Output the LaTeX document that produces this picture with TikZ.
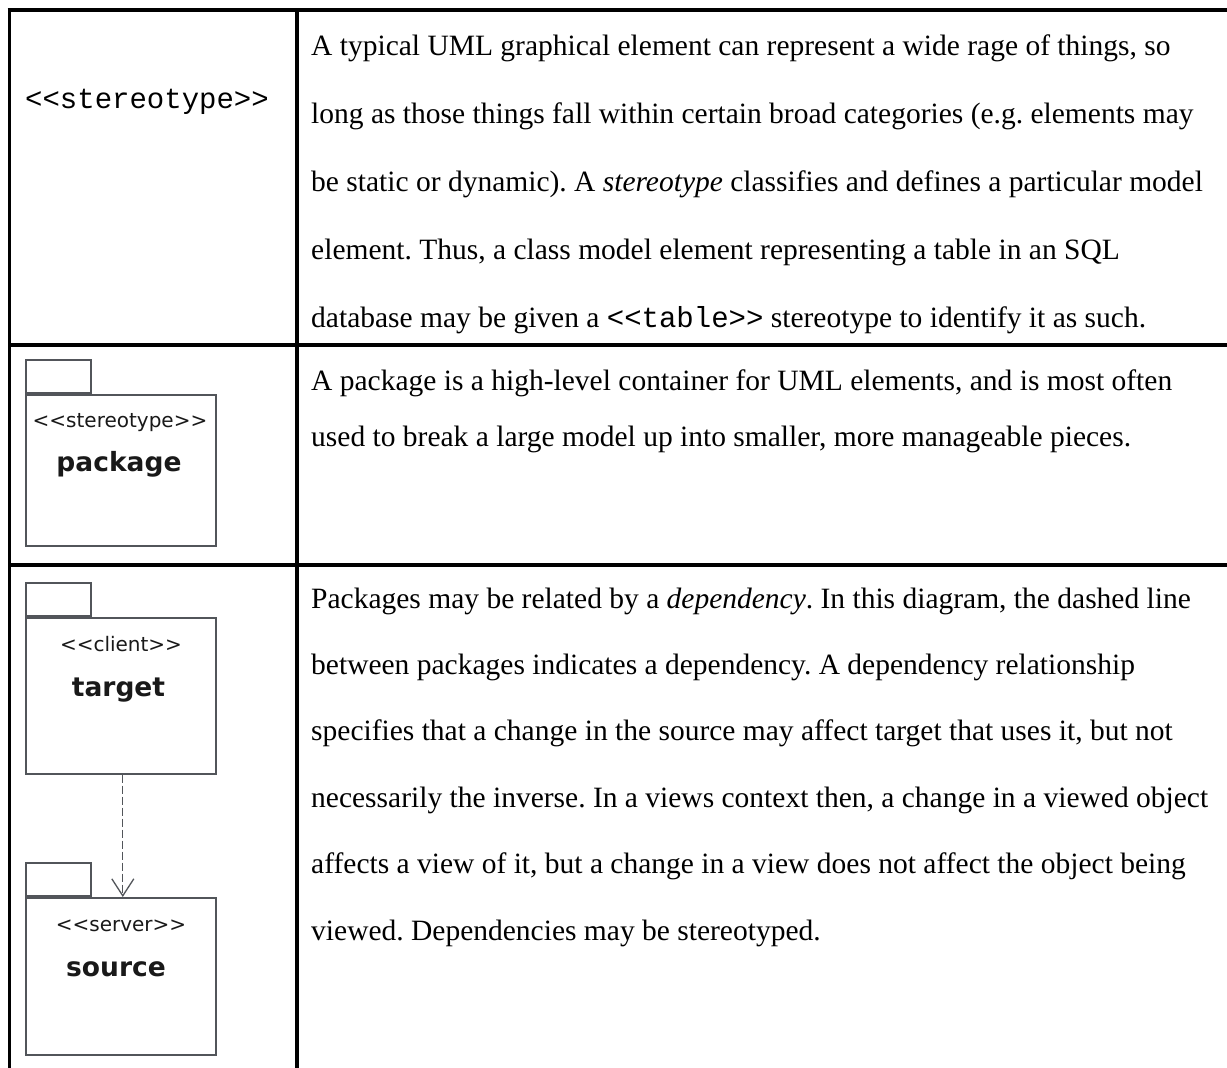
\documentclass[tikz,border=0pt]{standalone}
\usepackage{fontspec}
\setmainfont{Liberation Serif}
\setmonofont{Liberation Mono}
\newfontfamily\pkgfont{DejaVu Sans}
\usetikzlibrary{arrows.meta}
\frenchspacing

\definecolor{pkgline}{RGB}{82,85,90}
\definecolor{pkgtext}{RGB}{25,25,25}

\begin{document}
\begin{tikzpicture}[x=1pt,y=-1pt,
  rule/.style={line width=3.6pt, draw=black},
  body/.style={font=\fontsize{29.5}{35}\selectfont, anchor=base west, inner sep=0pt},
  mono/.style={font=\fontsize{29}{35}\ttfamily, anchor=base, inner sep=0pt},
  pkgbody/.style={draw=pkgline, line width=1.6pt, fill=white, minimum width=190pt,
    minimum height=151pt, inner sep=0pt, anchor=north west},
  pkgtab/.style={draw=pkgline, line width=1.6pt, minimum width=65pt,
    minimum height=33pt, inner sep=0pt, anchor=south west},
  stereo/.style={font=\pkgfont\fontsize{20}{24}\selectfont, text=pkgtext, anchor=base, inner sep=0pt},
  pkgname/.style={font=\pkgfont\bfseries\fontsize{26.5}{30}\selectfont, text=pkgtext, anchor=base, inner sep=0pt},
  dep/.style={draw=pkgline, line width=1.3pt, dash pattern=on 8pt off 3pt,
    -{Straight Barb[length=17pt, width=22pt, line width=1.3pt]}}
]
\useasboundingbox[fill=white] (0,0) rectangle (1227,1068);

% table rules
\draw[rule] (7.7,10) -- (1227,10);
\draw[rule] (9.5,8.2) -- (9.5,1068);
\draw[rule] (297,8.2) -- (297,1068);
\draw[rule] (9.5,345) -- (1227,345);
\draw[rule] (9.5,565) -- (1227,565);

% row 1: stereotype
\node[mono] (st) at (147,108) {<{}<stereotype>{}>};
\node[body] (a1) at (311,55) {A typical UML graphical element can represent a wide rage of things, so};
\node[body] (a2) at (311,123) {long as those things fall within certain broad categories (e.g. elements may};
\node[body] (a3) at (311,191) {be static or dynamic). A \textit{stereotype} classifies and defines a particular model};
\node[body] (a4) at (311,259) {element. Thus, a class model element representing a table in an SQL};
\node[body] (a5) at (311,327) {database may be given a {\ttfamily\fontsize{29}{35}\selectfont <{}<table>{}>} stereotype to identify it as such.};

% row 2: package
\node[pkgbody] (pkg) at (25,394) {};
\node[pkgtab] (pkgt) at (pkg.north west) {};
\node[stereo] (pkgs) at (120,427) {<{}<stereotype>{}>};
\node[pkgname] (pkgn) at (119,471) {package};
\node[body] (b1) at (311,390) {A package is a high-level container for UML elements, and is most often};
\node[body] (b2) at (311,446) {used to break a large model up into smaller, more manageable pieces.};

% row 3: dependency between packages
\node[pkgbody, minimum height=156pt] (tgt) at (25,617) {};
\node[pkgtab] (tgtt) at (tgt.north west) {};
\node[stereo] (tgts) at (121,651) {<{}<client>{}>};
\node[pkgname] (tgtn) at (118.5,696) {target};

\node[pkgbody, minimum height=157pt] (src) at (25,897) {};
\node[pkgtab] (srct) at (src.north west) {};
\node[stereo] (srcs) at (121,931) {<{}<server>{}>};
\node[pkgname] (srcn) at (116,976) {source};

\draw[dep] ([xshift=2pt]tgt.south) -- ([xshift=2pt]src.north);

\node[body] (c1) at (311,608) {Packages may be related by a \textit{dependency}. In this diagram, the dashed line};
\node[body] (c2) at (311,674.4) {between packages indicates a dependency. A dependency relationship};
\node[body] (c3) at (311,740.8) {specifies that a change in the source may affect target that uses it, but not};
\node[body] (c4) at (311,807.2) {necessarily the inverse. In a views context then, a change in a viewed object};
\node[body] (c5) at (311,873.6) {affects a view of it, but a change in a view does not affect the object being};
\node[body] (c6) at (311,940) {viewed. Dependencies may be stereotyped.};
\end{tikzpicture}
\end{document}
